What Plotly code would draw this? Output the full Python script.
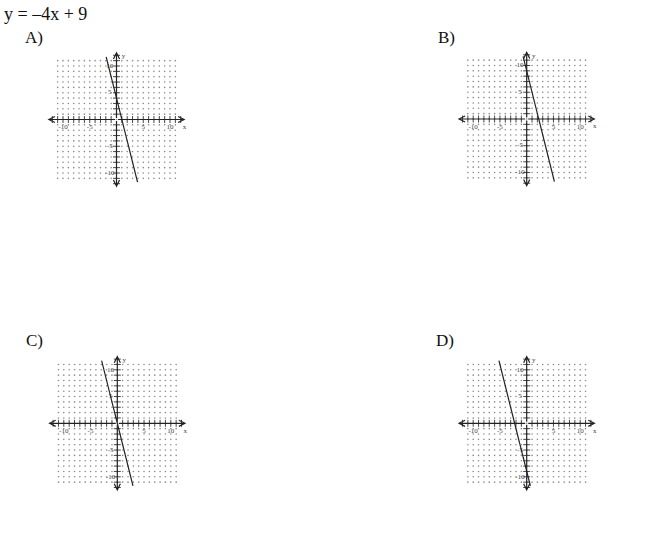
import plotly.graph_objects as go

W, H = 650, 542

# ---- data ----
title_text = "y = –4x + 9"
panel_names = ["A)", "B)", "C)", "D)"]
# endpoints of the drawn line in each panel (data units)
line_A_x = [-1.93, 3.93]
line_A_y = [11.7, -11.7]
line_B_x = [-0.68, 5.18]
line_B_y = [11.7, -11.7]
line_C_x = [-2.93, 2.93]
line_C_y = [11.7, -11.7]
line_D_x = [-5.18, 0.68]
line_D_y = [11.7, -11.7]

tick_label_vals = [-10, -5, 5, 10]
tick_label_text = ["-10", "-5", "5", "10"]
tick_marks = [v for v in range(-12, 13) if v != 0]
grid_vals = list(range(-11, 12))
axis_end = 12.9
axis_end_y = 12.7

lines = [(line_A_x, line_A_y), (line_B_x, line_B_y),
         (line_C_x, line_C_y), (line_D_x, line_D_y)]

# ---- layout geometry (pixels) ----
centers = [(116.5, 119.5), (526.7, 119.0), (117.3, 423.3), (526.7, 423.3)]
label_pos = [(23, 38), (436, 38), (24, 340), (434, 340)]
scale = 5.35
R = 14.0

fig = go.Figure()
layout = dict(width=W, height=H, margin=dict(l=0, r=0, t=0, b=0),
              paper_bgcolor="white", plot_bgcolor="rgba(0,0,0,0)",
              showlegend=False, annotations=[])

gx = [x for x in grid_vals for _ in grid_vals]
gy = [y for _ in grid_vals for y in grid_vals]
lab_font = dict(family="Liberation Serif", size=7, color="#444")

for i, ((cx, cy), (lx, ly)) in enumerate(zip(centers, lines)):
    sfx = "" if i == 0 else str(i + 1)
    xr, yr = "x" + sfx, "y" + sfx
    half = R * scale
    xd = [(cx - half) / W, (cx + half) / W]
    yd = [1 - (cy + half) / H, 1 - (cy - half) / H]
    ax_common = dict(range=[-R, R], showgrid=False, zeroline=False,
                     showticklabels=False, ticks="", showline=False, fixedrange=True)
    layout["xaxis" + sfx] = dict(domain=xd, anchor=yr, **ax_common)
    layout["yaxis" + sfx] = dict(domain=yd, anchor=xr, **ax_common)

    # dotted lattice
    fig.add_trace(go.Scatter(x=gx, y=gy, mode="markers", xaxis=xr, yaxis=yr,
                             marker=dict(size=1.6, color="#8a8a8a"),
                             hoverinfo="skip"))
    # tick labels
    fig.add_trace(go.Scatter(x=tick_label_vals, y=[-1.45] * 4, mode="text",
                             text=tick_label_text, xaxis=xr, yaxis=yr,
                             textfont=lab_font, hoverinfo="skip"))
    fig.add_trace(go.Scatter(x=[-1.25] * 4, y=tick_label_vals, mode="text",
                             text=tick_label_text, xaxis=xr, yaxis=yr,
                             textfont=lab_font, hoverinfo="skip"))
    fig.add_trace(go.Scatter(x=[12.7, 1.3], y=[-1.4, 11.8], mode="text",
                             text=["x", "y"], xaxis=xr, yaxis=yr,
                             textfont=lab_font, hoverinfo="skip"))
    # tick crosses
    fig.add_trace(go.Scatter(x=tick_marks, y=[0] * len(tick_marks), mode="markers",
                             xaxis=xr, yaxis=yr,
                             marker=dict(symbol="line-ns", size=5,
                                         line=dict(width=0.9, color="#333")),
                             hoverinfo="skip"))
    fig.add_trace(go.Scatter(x=[0] * len(tick_marks), y=tick_marks, mode="markers",
                             xaxis=xr, yaxis=yr,
                             marker=dict(symbol="line-ew", size=5,
                                         line=dict(width=0.9, color="#333")),
                             hoverinfo="skip"))
    # the graphed line
    fig.add_trace(go.Scatter(x=lx, y=ly, mode="lines", xaxis=xr, yaxis=yr,
                             line=dict(color="#222", width=1.2),
                             hoverinfo="skip"))
    # axes with arrowheads
    for (ex, ey) in [(axis_end, 0), (-axis_end, 0), (0, axis_end_y), (0, -axis_end_y)]:
        layout["annotations"].append(dict(
            x=ex, y=ey, ax=0, ay=0, xref=xr, yref=yr, axref=xr, ayref=yr,
            text="", showarrow=True, arrowhead=5, arrowsize=1.0, arrowwidth=1.2,
            arrowcolor="#222"))
    # panel label
    px, py = label_pos[i]
    layout["annotations"].append(dict(
        x=px / W, y=1 - py / H, xref="paper", yref="paper", text=panel_names[i],
        showarrow=False, xanchor="left", yanchor="middle",
        font=dict(family="Liberation Serif", size=17, color="#111")))

layout["annotations"].append(dict(
    x=2 / W, y=1 - 14 / H, xref="paper", yref="paper", text=title_text,
    showarrow=False, xanchor="left", yanchor="middle",
    font=dict(family="Liberation Serif", size=18, color="#111")))

fig.update_layout(**layout)
fig.write_html("out.html", config={"displayModeBar": False},
               post_script="document.body.style.margin='0';document.body.style.padding='0';")
